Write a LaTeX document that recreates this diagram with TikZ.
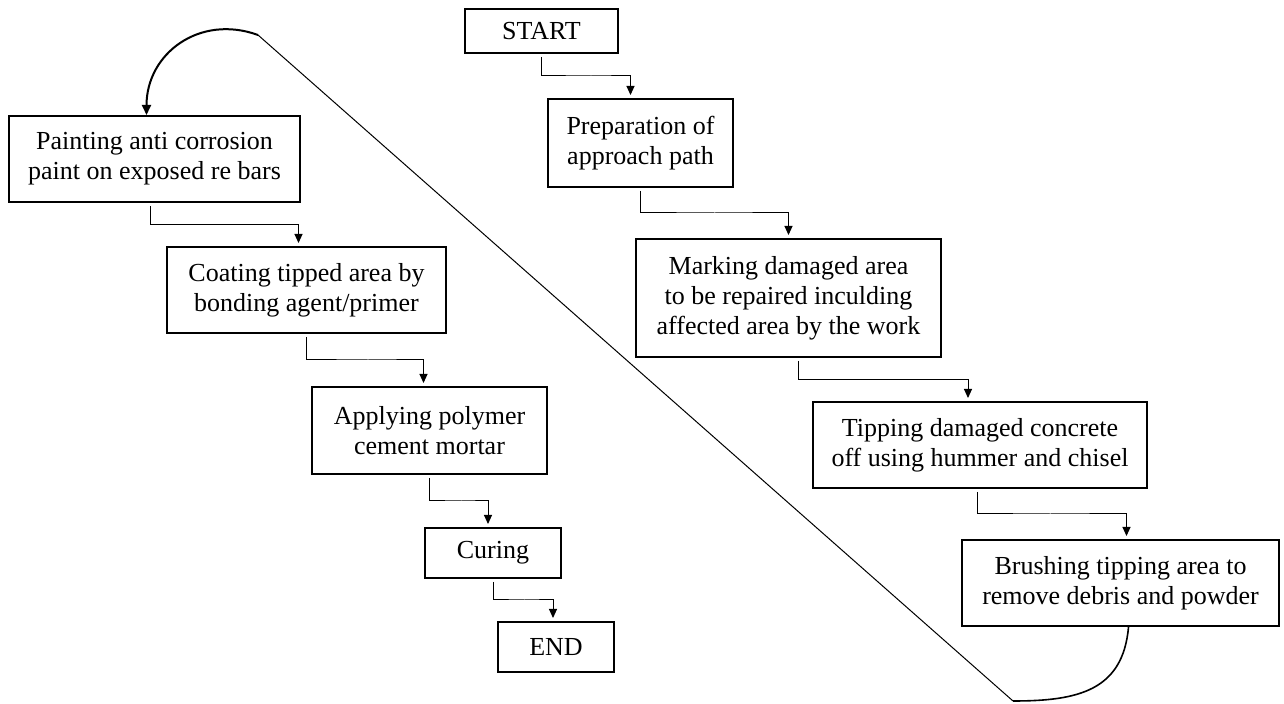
\documentclass[tikz,border=0pt]{standalone}
\usepackage{fontspec}
\setmainfont{Liberation Serif}
\usetikzlibrary{calc,arrows.meta}

\begin{document}
\begin{tikzpicture}[x=0.5pt,y=-0.5pt,
		box/.style={draw,line width=1pt,align=center,inner sep=0pt,font=\fontsize{13}{15}\selectfont},
		link/.style={line width=0.5pt,-{Triangle[length=4.5pt,width=4pt]},shorten <=1.5pt,shorten >=1.5pt}]
	\useasboundingbox (0,0) rectangle (1284,704);
	% right column: from start down to brushing
	\node[box,minimum width=76.5pt,minimum height=22pt] (start) at (541.5,31) {START};
	\node[box,minimum width=92.5pt,minimum height=44pt] (prep) at (640.5,143) {Preparation of\\approach path};
	\node[box,minimum width=152.5pt,minimum height=59pt] (mark) at (788.5,298) {Marking damaged area\\to be repaired inculding\\affected area by the work};
	\node[box,minimum width=167pt,minimum height=43pt] (tip) at (980,445) {Tipping damaged concrete\\off using hummer and chisel};
	\node[box,minimum width=158.5pt,minimum height=43pt] (brush) at (1120.5,583) {Brushing tipping area to\\remove debris and powder};
	% left column: painting down to end
	\node[box,minimum width=145.5pt,minimum height=43pt] (paint) at (154.5,159) {Painting anti corrosion\\paint on exposed re bars};
	\node[box,minimum width=139.5pt,minimum height=43pt] (coat) at (306.5,290) {Coating tipped area by\\bonding agent/primer};
	\node[box,minimum width=117.5pt,minimum height=43.5pt] (apply) at (429.5,430.5) {Applying polymer\\cement mortar};
	\node[box,minimum width=68pt,minimum height=25pt] (cure) at (493,553) {Curing};
	\node[box,minimum width=58pt,minimum height=25pt] (stop) at (556,647) {END};
	% stepped links between the boxes
	\draw[link] (start.south) |- ($(start.south)!.5!(prep.north)$) -| ([xshift=-5pt]prep.north);
	\draw[link] (prep.south) |- ($(prep.south)!.5!(mark.north)$) -| (mark.north);
	\draw[link] ([xshift=5pt]mark.south) |- ($(mark.south)!.5!(tip.north)$) -| ([xshift=-6pt]tip.north);
	\draw[link] ([xshift=-1.5pt]tip.south) |- ($(tip.south)!.5!(brush.north)$) -| ([xshift=3pt]brush.north);
	\draw[link] ([xshift=-2pt]paint.south) |- ($(paint.south)!.5!(coat.north)$) -| ([xshift=-4pt]coat.north);
	\draw[link] (coat.south) |- ($(coat.south)!.5!(apply.north)$) -| ([xshift=-3pt]apply.north);
	\draw[link] (apply.south) |- ($(apply.south)!.5!(cure.north)$) -| ([xshift=-2.5pt]cure.north);
	\draw[link] (cure.south) |- ($(cure.south)!.5!(stop.north)$) -| ([xshift=-1.5pt]stop.north);
	% long return from brushing back to painting
	\coordinate (loopbot) at (1013,701);
	\coordinate (looptop) at (258,35);
	\draw[line width=0.8pt] ([xshift=4pt]brush.south) to[out=-95,in=0,looseness=1.2] (loopbot);
	\draw[line width=0.5pt] (loopbot) -- (looptop);
	\draw[line width=1pt,-{Triangle[length=5pt,width=4.5pt]}] (looptop) to[out=160,in=90,looseness=1.15] ([xshift=-4pt]paint.north);
\end{tikzpicture}
\end{document}
